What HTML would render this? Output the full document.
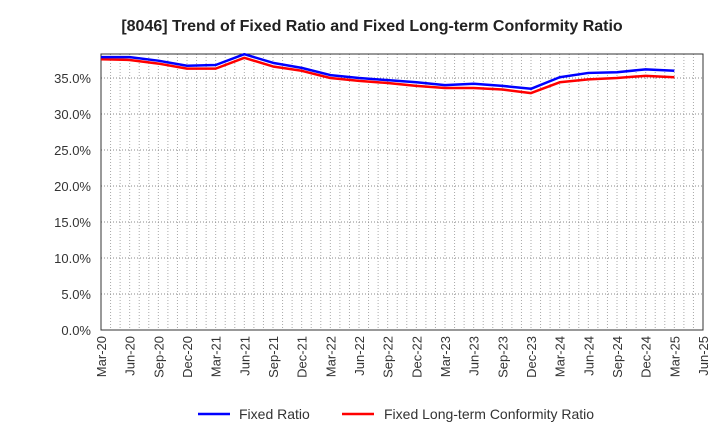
<!DOCTYPE html>
<html><head><meta charset="utf-8"><style>
body{margin:0;background:#fff;width:720px;height:440px;overflow:hidden;font-family:"Liberation Sans",sans-serif}
</style></head><body>
<svg id="chart" width="720" height="440" xmlns="http://www.w3.org/2000/svg">
<text x="372" y="31" text-anchor="middle" font-size="16" font-weight="bold" fill="#222">[8046]  Trend of Fixed Ratio and Fixed Long-term Conformity Ratio</text>
<g id="grid"></g><g id="axes"></g><g id="series"></g>
<g>
<line x1="198" y1="414" x2="230" y2="414" stroke="#00f" stroke-width="2.5"/>
<text x="239" y="419" font-size="14" fill="#333">Fixed Ratio</text>
<line x1="342" y1="414" x2="374" y2="414" stroke="#f00" stroke-width="2.5"/>
<text x="384" y="419" font-size="14" fill="#333">Fixed Long-term Conformity Ratio</text>
</g>
</svg>
<script>
const categories=["Mar-20","Jun-20","Sep-20","Dec-20","Mar-21","Jun-21","Sep-21","Dec-21","Mar-22","Jun-22","Sep-22","Dec-22","Mar-23","Jun-23","Sep-23","Dec-23","Mar-24","Jun-24","Sep-24","Dec-24","Mar-25","Jun-25"];
const fixedRatio=[37.9,37.9,37.4,36.7,36.8,38.3,37.1,36.4,35.4,35.0,34.7,34.4,34.0,34.2,33.9,33.5,35.1,35.7,35.8,36.2,36.0];
const conformityRatio=[37.6,37.5,37.0,36.3,36.3,37.8,36.6,36.0,35.0,34.6,34.3,33.9,33.6,33.6,33.4,32.9,34.4,34.8,35.0,35.3,35.1];
const yTicks=[0,5,10,15,20,25,30,35];
const yMax=38.33;
const L=101,R=703,T=54,B=330;
const xs=i=>L+i*(R-L)/(categories.length-1);
const ys=v=>B-v/yMax*(B-T);
const NS="http://www.w3.org/2000/svg";
function mk(p,tag,a){const e=document.createElementNS(NS,tag);for(const k in a)e.setAttribute(k,a[k]);p.appendChild(e);return e;}
const grid=document.getElementById('grid'),axes=document.getElementById('axes'),series=document.getElementById('series');
const nm=(categories.length-1)*3;
for(let m=1;m<nm;m++){const x=L+m*(R-L)/nm;const g=mk(grid,'line',{x1:x,x2:x,y1:T,y2:B,stroke:'#aaa','stroke-width':1,'stroke-dasharray':'1,2'});

}
yTicks.forEach(v=>{const y=ys(v);if(v>0){const g=mk(grid,'line',{x1:L,x2:R,y1:y,y2:y,stroke:'#888','stroke-width':1,'stroke-dasharray':'1,2'});

}
const t=mk(axes,'text',{x:91,y:y+5,'text-anchor':'end','font-size':13,fill:'#333'});t.textContent=v.toFixed(1)+'%';

});
const fr=mk(axes,'rect',{x:L,y:T,width:R-L,height:B-T,fill:'none',stroke:'#333','stroke-width':1});


categories.forEach((c,i)=>{const x=xs(i);const t=mk(axes,'text',{transform:`translate(${x+5},336) rotate(-90)`,'text-anchor':'end','font-size':13,fill:'#333'});t.textContent=c;

});
function line(data,color,name){const p=mk(series,'polyline',{points:data.map((v,i)=>xs(i)+','+ys(v)).join(' '),fill:'none',stroke:color,'stroke-width':2.5,'stroke-linejoin':'round'});

}
line(conformityRatio,'#f00','conformity-ratio-line');
line(fixedRatio,'#00f','fixed-ratio-line');
</script>
</body></html>
